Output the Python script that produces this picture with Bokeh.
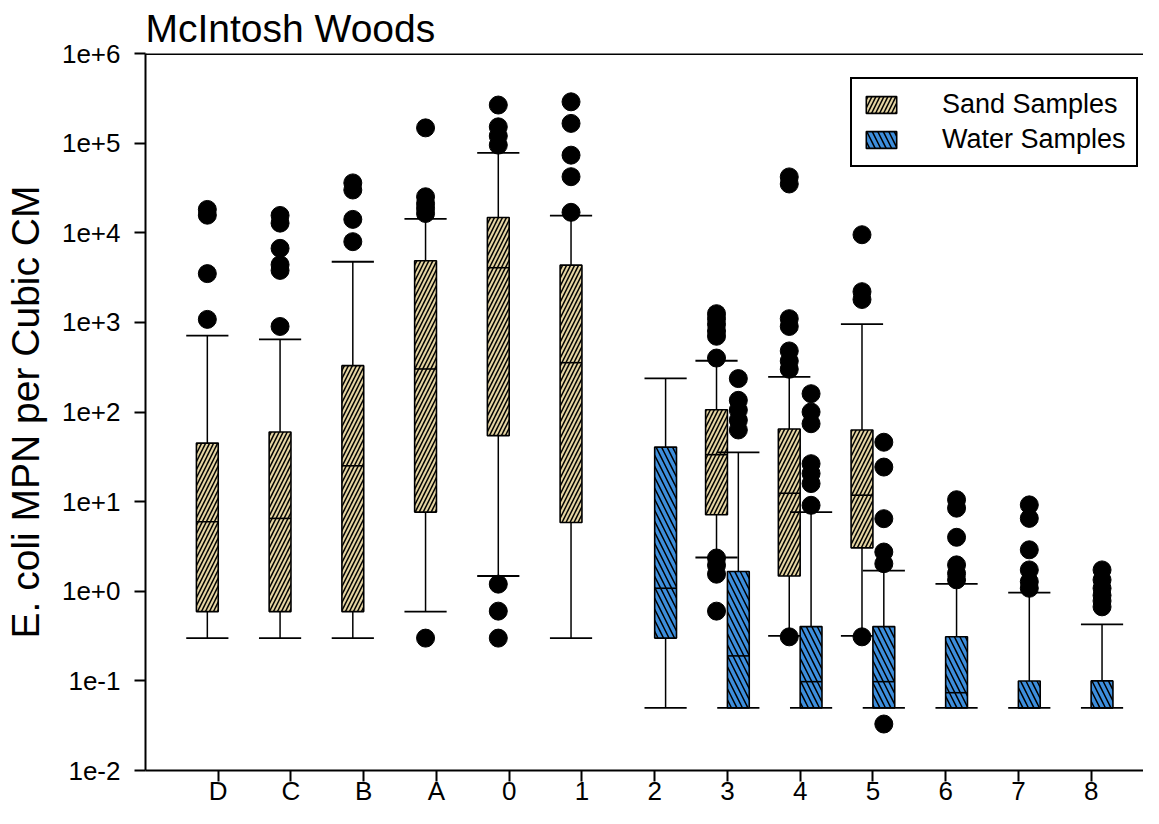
from bokeh.plotting import figure
from bokeh.models import (Range1d, FixedTicker, CustomJSTickFormatter, Legend,
                          LegendItem, Span)
from bokeh.embed import file_html
from bokeh.resources import INLINE

# ---------------- data ----------------
categories = ["D", "C", "B", "A", "0", "1", "2", "3", "4", "5", "6", "7", "8"]

sand_cats = ["D", "C", "B", "A", "0", "1", "3", "4", "5"]
sand_lo = [0.3, 0.3, 0.3, 0.593, 1.48, 0.3, 2.38, 0.317, 0.317]
sand_q1 = [0.593, 0.593, 0.593, 7.64, 54.5, 5.85, 7.13, 1.48, 3.05]
sand_med = [5.96, 6.5, 25.1, 302, 4070, 355, 33.4, 12.4, 11.8]
sand_q3 = [45, 59.8, 329, 4870, 14800, 4350, 106, 64.6, 63]
sand_hi = [710, 646, 4750, 14300, 78000, 15500, 373, 246, 957]
sand_out = [
    [1080, 3500, 15700, 18200],
    [900, 3800, 4400, 6700, 12800, 15600],
    [7950, 14100, 30000, 36000],
    [0.3, 16400, 18700, 21200, 25200, 148000],
    [0.3, 0.6, 1.2, 95000, 120000, 152000, 266000],
    [16900, 42200, 73400, 166000, 289000],
    [0.6, 1.55, 1.95, 2.35, 400, 700, 800, 950, 1100, 1250],
    [0.31, 300, 370, 480, 900, 1100, 35000, 42000],
    [0.31, 1800, 2200, 9500],
]

water_cats = ["2", "3", "4", "5", "6", "7", "8"]
water_lo = [0.05, 0.05, 0.05, 0.05, 0.05, 0.05, 0.05]
water_q1 = [0.30, 0.05, 0.05, 0.05, 0.05, 0.05, 0.05]
water_med = [1.08, 0.19, 0.098, 0.098, 0.0738, 0.05, 0.05]
water_q3 = [40.6, 1.66, 0.403, 0.403, 0.311, 0.0995, 0.1]
water_hi = [237, 35.5, 7.64, 1.7, 1.21, 0.966, 0.428]
water_out = [
    [],
    [63, 81, 105, 135, 236],
    [9.1, 15.9, 20.6, 26.5, 74, 100, 160],
    [0.033, 2.03, 2.74, 6.45, 24.3, 46],
    [1.34, 1.58, 1.97, 4.0, 8.45, 10.5],
    [1.08, 1.28, 1.73, 2.9, 6.5, 9.2],
    [0.67, 0.78, 0.9, 1.08, 1.34, 1.73],
]

ytick_values = [1e-2, 1e-1, 1e0, 1e1, 1e2, 1e3, 1e4, 1e5, 1e6]
ytick_labels = ["1e-2", "1e-1", "1e+0", "1e+1", "1e+2", "1e+3", "1e+4", "1e+5", "1e+6"]

# ---------------- style ----------------
FONT = "Liberation Sans"
SAND = "#E4D4A2"
WATER = "#3D8EDC"
OFFSET = 0.15
BOX_W = 0.30
CAP_HALF = 0.29

p = figure(width=1143, height=808, y_axis_type="log",
           x_range=Range1d(-1.0, 12.72), y_range=Range1d(1e-2, 1e6),
           output_backend="svg", toolbar_location=None,
           min_border_left=142, min_border_right=0,
           min_border_top=50, min_border_bottom=30)

p.title.text = "McIntosh Woods"
p.title.text_font = FONT
p.title.text_font_size = "39px"
p.title.text_font_style = "normal"
p.title.text_color = "black"
p.title.align = "left"
p.title.standoff = 8
p.title.offset = 0

p.grid.visible = False
p.outline_line_color = None
p.background_fill_color = "white"
p.border_fill_color = "white"

# axes
p.xaxis.ticker = FixedTicker(ticks=list(range(len(categories))))
p.xaxis.major_label_overrides = {i: c for i, c in enumerate(categories)}
p.yaxis.ticker = FixedTicker(ticks=ytick_values)
p.yaxis.formatter = CustomJSTickFormatter(
    args=dict(vals=ytick_values, labs=ytick_labels),
    code="""
    let best = 0, bd = 1e9;
    for (let i = 0; i < vals.length; i++) {
        const d = Math.abs(Math.log10(vals[i]) - Math.log10(tick));
        if (d < bd) { bd = d; best = i; }
    }
    return labs[best];
    """)
for ax in (p.xaxis, p.yaxis):
    ax.axis_line_width = 2
    ax.axis_line_color = "black"
    ax.major_tick_line_width = 2
    ax.major_tick_line_color = "black"
    ax.major_tick_out = 11
    ax.major_tick_in = 0
    ax.minor_tick_line_color = None
    ax.major_label_text_font = FONT
    ax.major_label_text_font_size = "26px"
    ax.major_label_text_color = "black"
p.xaxis.major_label_standoff = -6
p.xaxis.axis_label_standoff = 0
p.yaxis.major_label_standoff = 14
p.yaxis.axis_label = "E. coli MPN per Cubic CM"
p.yaxis.axis_label_text_font = FONT
p.yaxis.axis_label_text_font_size = "39px"
p.yaxis.axis_label_text_font_style = "normal"
p.yaxis.axis_label_text_color = "black"
p.yaxis.axis_label_standoff = 12

# top frame line
p.add_layout(Span(location=1e6, dimension="width", line_color="black", line_width=3))


def draw_group(cats, lo, q1, med, q3, hi, outs, off, color, hatch, hscale):
    xs = [categories.index(c) + off for c in cats]
    # whiskers
    p.segment(x0=xs, x1=xs, y0=lo, y1=hi, line_color="black", line_width=1.5)
    p.segment(x0=[x - CAP_HALF for x in xs], x1=[x + CAP_HALF for x in xs],
              y0=hi, y1=hi, line_color="black", line_width=1.8)
    p.segment(x0=[x - CAP_HALF for x in xs], x1=[x + CAP_HALF for x in xs],
              y0=lo, y1=lo, line_color="black", line_width=1.8)
    box = p.vbar(x=xs, width=BOX_W, bottom=q1, top=q3, fill_color=color,
                 line_color="black", line_width=1.6,
                 hatch_pattern=hatch, hatch_color="black",
                 hatch_scale=hscale, hatch_weight=1.5)
    p.segment(x0=[x - BOX_W / 2 for x in xs], x1=[x + BOX_W / 2 for x in xs],
              y0=med, y1=med, line_color="black", line_width=1.6)
    ox, oy = [], []
    for x, o in zip(xs, outs):
        ox += [x] * len(o)
        oy += list(o)
    p.scatter(x=ox, y=oy, size=18, color="black")
    return box


sand_box = draw_group(sand_cats, sand_lo, sand_q1, sand_med, sand_q3, sand_hi,
                      sand_out, -OFFSET, SAND, "/", 8)
water_box = draw_group(water_cats, water_lo, water_q1, water_med, water_q3, water_hi,
                       water_out, OFFSET, WATER, "\\", 11)

legend = Legend(items=[LegendItem(label="Sand Samples", renderers=[sand_box]),
                       LegendItem(label="Water Samples", renderers=[water_box])],
                location=(705, 603))
legend.label_text_font = FONT
legend.label_text_font_size = "27px"
legend.label_text_color = "black"
legend.label_standoff = 42
legend.glyph_width = 38
legend.glyph_height = 21
legend.spacing = 4
legend.padding = 10
legend.margin = 0
legend.border_line_color = "black"
legend.border_line_width = 2
legend.border_line_alpha = 1
legend.background_fill_color = "white"
legend.background_fill_alpha = 1
p.add_layout(legend)

open("out.html", "w").write(file_html(p, INLINE))
